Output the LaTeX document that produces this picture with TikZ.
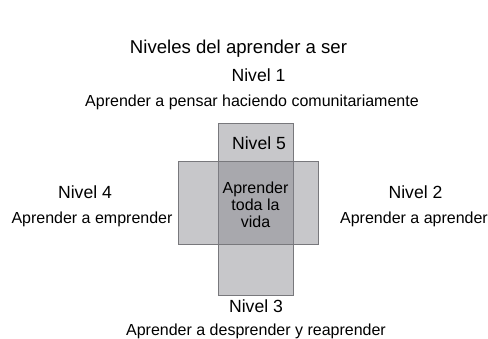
\documentclass[tikz,border=0pt]{standalone}
\usepackage{fontspec}
\setmainfont{Liberation Sans}
\usetikzlibrary{positioning}
\definecolor{boxfill}{RGB}{130,130,138}
\definecolor{boxline}{RGB}{120,120,124}

\begin{document}
\begin{tikzpicture}[x=1pt,y=-1pt]
	\tikzset{lvl/.style={anchor=base,inner sep=0pt,font=\fontsize{17.6}{20}\selectfont},
		lvltext/.style={anchor=base,inner sep=0pt,font=\fontsize{16}{19}\selectfont},
		lvlbox/.style={draw=boxline,line width=0.6pt,fill=boxfill,fill opacity=0.45}}
	\useasboundingbox (0,0) rectangle (488,339);
	
	\node (title) at (238.5,54) [anchor=base,inner sep=0pt,font=\fontsize{18.6}{22}\selectfont] {Niveles del aprender a ser};
	
	% las dos bandas
	\filldraw [lvlbox] (218,123) rectangle (293,295);
	\filldraw [lvlbox] (178,161) rectangle (318,244);
	
	\node (n1) at (258.5,82) [lvl] {Nivel 1};
	\node (t1) at (252,107) [lvltext] {Aprender a pensar haciendo comunitariamente};
	\node (n5) at (259,150) [lvl] {Nivel 5};
	\node (t5) at (255.5,205) [lvltext,anchor=center,align=center,font=\fontsize{16}{17}\selectfont] {Aprender\\toda la\\vida};
	\node (n4) at (85,199) [lvl] {Nivel 4};
	\node (t4) at (92,224) [lvltext] {Aprender a emprender};
	\node (n2) at (415.5,199) [lvl] {Nivel 2};
	\node (t2) at (414,224) [lvltext] {Aprender a aprender};
	\node (n3) at (256,313) [lvl] {Nivel 3};
	\node (t3) at (256,336) [lvltext] {Aprender a desprender y reaprender};
\end{tikzpicture}
\end{document}
